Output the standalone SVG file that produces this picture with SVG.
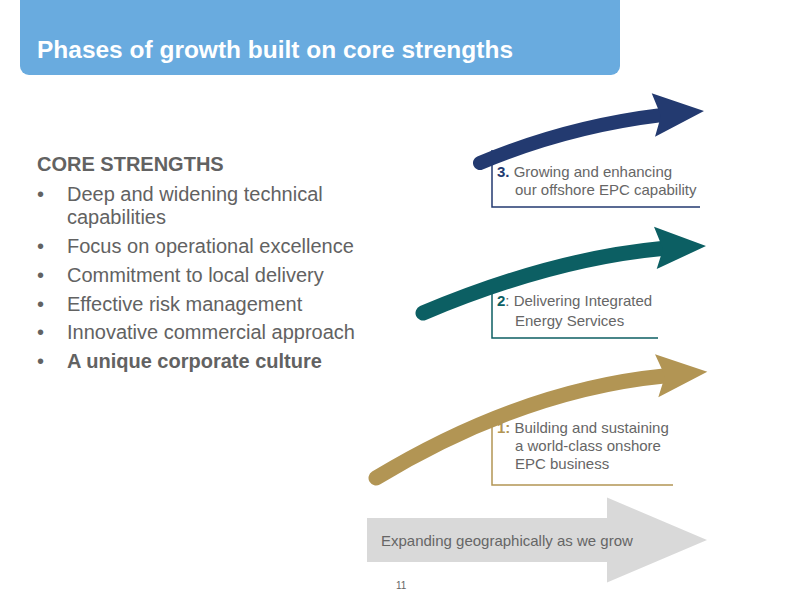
<svg xmlns="http://www.w3.org/2000/svg" width="800" height="600" viewBox="0 0 800 600">
<style>
  .title { font-family: "Liberation Sans", Arial, sans-serif; font-weight: bold; font-size: 24px; fill: #ffffff; }
  .left { font-family: "Liberation Sans", Arial, sans-serif; font-size: 20px; fill: #626262; }
  .lbl { font-family: "Liberation Sans", Arial, sans-serif; font-size: 15px; fill: #666666; }
  .b { font-weight: bold; }
  .shaft { fill: none; stroke-linecap: round; }
</style>
<rect width="800" height="600" fill="#ffffff"/>
<g id="header">
  <rect x="20" y="-12" width="600" height="87" rx="9" fill="#69abdf"/>
  <text class="title" x="37" y="58" textLength="476" lengthAdjust="spacingAndGlyphs">Phases of growth built on core strengths</text>
</g>
<g id="core-strengths" class="left">
  <text x="37" y="171" class="b">CORE STRENGTHS</text>
  <text x="37" y="201">•</text><text x="67" y="201">Deep and widening technical</text>
  <text x="67" y="223.5">capabilities</text>
  <text x="37" y="253">•</text><text x="67" y="253">Focus on operational excellence</text>
  <text x="37" y="282">•</text><text x="67" y="282">Commitment to local delivery</text>
  <text x="37" y="310.5">•</text><text x="67" y="310.5">Effective risk management</text>
  <text x="37" y="339">•</text><text x="67" y="339">Innovative commercial approach</text>
  <text x="37" y="367.5">•</text><text x="67" y="367.5" class="b">A unique corporate culture</text>
</g>
<g id="connectors">
  <polyline points="492,150 492,207 700,207" fill="none" stroke="#233a70" stroke-width="1.5"/>
  <polyline points="492,280 492,338 658,338" fill="none" stroke="#0c5f63" stroke-width="1.5"/>
  <polyline points="492,415 492,485 673,485" fill="none" stroke="#b29554" stroke-width="1.5"/>
</g>
<g id="phase3">
  <path class="shaft" d="M480,163 Q567,126.5 662,115" stroke="#233a70" stroke-width="14"/>
  <polygon points="651.7,93.3 704,111 655,136.7 661,116" fill="#233a70"/>
  <text class="lbl" x="497" y="177"><tspan class="b" fill="#233a70">3.</tspan> Growing and enhancing</text>
  <text class="lbl" x="515" y="195">our offshore EPC capability</text>
</g>
<g id="phase2">
  <path class="shaft" d="M423,313 Q551,259 662,248.5" stroke="#0c5f63" stroke-width="15"/>
  <polygon points="654,226.7 706,246 656.7,269 663,249" fill="#0c5f63"/>
  <text class="lbl" x="497" y="306"><tspan class="b" fill="#0c5f63">2</tspan>: Delivering Integrated</text>
  <text class="lbl" x="515" y="326">Energy Services</text>
</g>
<g id="phase1">
  <path class="shaft" d="M376,478 Q522,390 664,376" stroke="#b29554" stroke-width="15"/>
  <polygon points="655,354.3 707.3,371.7 658.3,397.3 665,376" fill="#b29554"/>
  <text class="lbl" x="497" y="433"><tspan class="b" fill="#b29554">1:</tspan> Building and sustaining</text>
  <text class="lbl" x="515" y="451">a world-class onshore</text>
  <text class="lbl" x="515" y="469">EPC business</text>
</g>
<g id="expanding">
  <polygon points="367,518 607,518 607,497.5 707,540 607,582.5 607,562 367,562" fill="#d9d9d9"/>
  <text class="lbl" x="381" y="546">Expanding geographically as we grow</text>
</g>
<text x="396" y="589" font-family="Liberation Sans, Arial, sans-serif" font-size="10" fill="#666666">11</text>
</svg>
